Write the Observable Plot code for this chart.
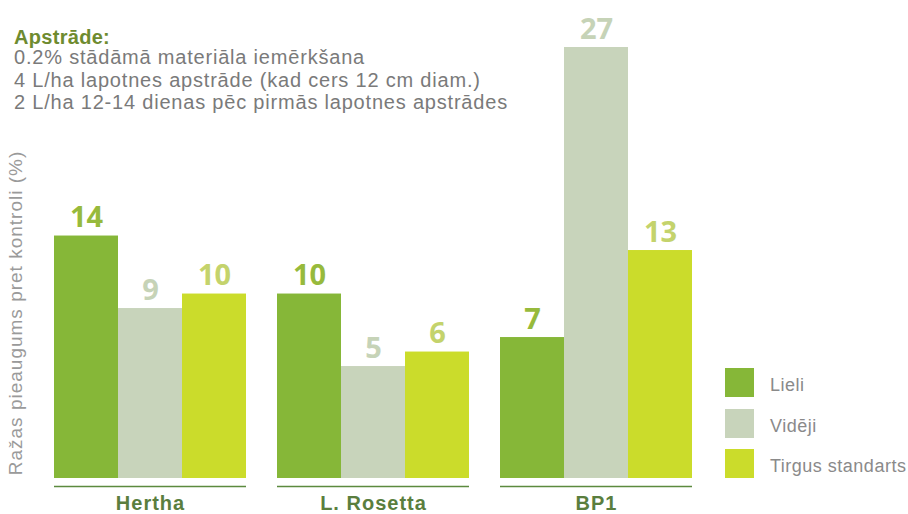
<!DOCTYPE html>
<html>
<head>
<meta charset="utf-8">
<script src="https://cdn.jsdelivr.net/npm/d3@7"></script>
<script src="https://cdn.jsdelivr.net/npm/@observablehq/plot@0.6"></script>
<style>
  body { margin: 0; background: #fff; }
  #wrap { position: relative; width: 908px; height: 514px; font-family: "Liberation Sans", Arial, sans-serif; overflow: hidden; }
  #wrap svg { position: absolute; left: 0; top: 0; }
  .t { position: absolute; left: 14px; white-space: nowrap; font-size: 20px; line-height: 20px; color: #7a7a7a; letter-spacing: 0.8px; z-index: 2; }
  .t.head { font-weight: bold; color: #6e8b2f; letter-spacing: 0.3px; }
  .ylab { position: absolute; width: 400px; text-align: center; white-space: nowrap; font-size: 19px; line-height: 20px; color: #9a9a9a; letter-spacing: 1px; transform: rotate(-90deg); transform-origin: 50% 50%; z-index: 2; }
  .lg-sw { position: absolute; left: 725px; width: 29px; height: 29px; }
  .lg-tx { position: absolute; left: 770px; font-size: 18px; line-height: 18px; color: #8a8a8a; letter-spacing: 0.5px; white-space: nowrap; }
  g[aria-label="fx-axis tick label"] text { letter-spacing: 1px; }
</style>
</head>
<body>
<div id="wrap"></div>
<script>
// ---- data ----
const groups = ["Hertha", "L. Rosetta", "BP1"];
const series = ["Lieli", "Vidēji", "Tirgus standarts"];
const lieli = [14, 10, 7];
const videji = [9, 5, 27];
const tirgus = [10, 6, 13];
const barColors = ["#86b738", "#c8d4bb", "#cbdc2b"];
const labelColors = ["#97ba3c", "#c6d3b7", "#c4d36c"];
const titleText = "Apstrāde:";
const subtitleLines = [
  "0.2% stādāmā materiāla iemērkšana",
  "4 L/ha lapotnes apstrāde (kad cers 12 cm diam.)",
  "2 L/ha 12-14 dienas pēc pirmās lapotnes apstrādes"
];
const yLabel = "Ražas pieaugums pret kontroli (%)";
const yBase = -2.72;   // the drawn baseline sits below zero in the original
const yTop = 27;

const valuesBySeries = [lieli, videji, tirgus];
const data = groups.flatMap((g, i) =>
  series.map((s, j) => ({ group: g, series: s, value: valuesBySeries[j][i] }))
);

const marks = [];
series.forEach((s, j) => {
  const sub = data.filter(d => d.series === s);
  marks.push(Plot.barY(sub, { fx: "group", x: "series", y1: () => yBase, y2: "value", fill: barColors[j] }));
  marks.push(Plot.text(sub, {
    fx: "group", x: "series", y: "value", text: d => String(d.value),
    fill: labelColors[j], lineAnchor: "bottom", dy: -9,
    fontSize: 29, fontWeight: "bold", fontFamily: "'Open Sans', sans-serif"
  }));
});
marks.push(Plot.ruleY([yBase], { dy: 8, stroke: "#5c8a3f", strokeWidth: 1.5 }));
marks.push(Plot.axisFx({
  anchor: "bottom", tickSize: 0, tickPadding: 17, fontSize: 20,
  fontWeight: "bold", fill: "#5a7e3e", label: null
}));

const chart = Plot.plot({
  width: 908, height: 514,
  marginLeft: 54, marginRight: 216, marginTop: 47, marginBottom: 36,
  fx: { domain: groups, paddingInner: 31 / 223, paddingOuter: 0, label: null },
  x: { domain: series, padding: 0, axis: null },
  y: { domain: [yBase, yTop], axis: null },
  style: { fontFamily: "'Liberation Sans', Arial, sans-serif", background: "transparent", overflow: "visible" },
  marks
});

const wrap = document.getElementById("wrap");
wrap.appendChild(chart);

// title block
const tops = [27, 47, 69.8, 92.4];
[titleText, ...subtitleLines].forEach((txt, i) => {
  const d = document.createElement("div");
  d.className = "t" + (i === 0 ? " head" : "");
  d.style.top = tops[i] + "px";
  d.textContent = txt;
  wrap.appendChild(d);
});

// y label
const yl = document.createElement("div");
yl.className = "ylab";
yl.textContent = yLabel;
yl.style.left = (16 - 200) + "px";
yl.style.top = (313 - 10) + "px";
wrap.appendChild(yl);

// legend
const swTops = [368, 409, 449];
series.forEach((s, j) => {
  const sw = document.createElement("div");
  sw.className = "lg-sw";
  sw.style.top = swTops[j] + "px";
  sw.style.background = barColors[j];
  wrap.appendChild(sw);
  const tx = document.createElement("div");
  tx.className = "lg-tx";
  tx.style.top = (swTops[j] + 7.5) + "px";
  tx.textContent = s;
  wrap.appendChild(tx);
});
</script>
</body>
</html>
